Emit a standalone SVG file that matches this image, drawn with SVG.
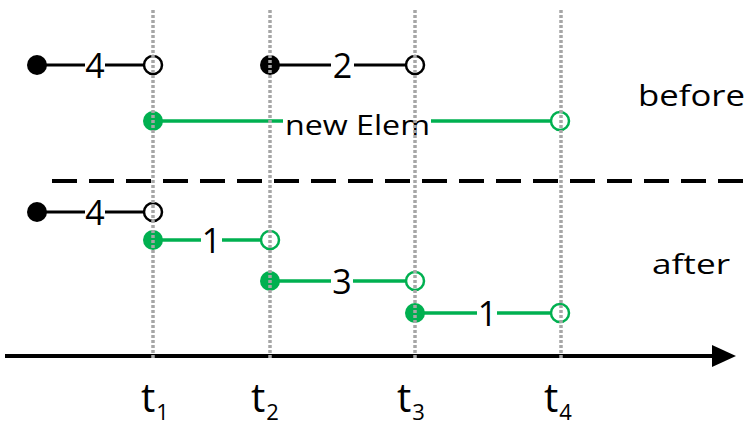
<svg xmlns="http://www.w3.org/2000/svg" width="747" height="422" viewBox="0 0 747 422">
<style>
.bk{stroke:#000;stroke-width:3;fill:none}
.gr{stroke:#00b050;stroke-width:3.5;fill:none}
.fb{fill:#000}
.ob{fill:#fff;stroke:#000;stroke-width:2.5}
.fg{fill:#00b050}
.og{fill:#fff;stroke:#00b050;stroke-width:2.5}
.num{font-family:"Open Sans","Liberation Sans",Arial,sans-serif;font-size:34px;fill:#000;text-anchor:middle}
.wd{font-family:"Open Sans","Liberation Sans",Arial,sans-serif;fill:#000}
.dot{stroke:#a6a6a6;stroke-width:3.5;stroke-dasharray:3 2;fill:none}
</style>
<rect width="747" height="422" fill="#fff"/>
<g id="connectors">
  <line x1="52" y1="181" x2="747" y2="181" stroke="#000" stroke-width="4" stroke-dasharray="25 12"/>
  <line x1="5" y1="356" x2="716" y2="356" stroke="#000" stroke-width="4"/>
  <polygon points="712,345 736,356 712,367" fill="#000"/>
</g>
<g id="before-4">
  <line class="bk" x1="37" y1="65" x2="85" y2="65"/>
  <line class="bk" x1="105" y1="65" x2="153" y2="65"/>
  <circle class="fb" cx="37" cy="65" r="10"/>
  <circle class="ob" cx="153" cy="65" r="9"/>
  <text class="num" x="95" y="78">4</text>
</g>
<g id="before-2">
  <line class="bk" x1="270" y1="65" x2="331" y2="65"/>
  <line class="bk" x1="354" y1="65" x2="415" y2="65"/>
  <circle class="fb" cx="270" cy="65" r="10"/>
  <circle class="ob" cx="415" cy="65" r="9"/>
  <text class="num" x="342.5" y="78">2</text>
</g>
<g id="new-elem">
  <line class="gr" x1="153" y1="121" x2="283" y2="121"/>
  <line class="gr" x1="431" y1="121" x2="560" y2="121"/>
  <circle class="fg" cx="153" cy="121" r="10"/>
  <circle class="og" cx="560" cy="121" r="9"/>
  <text class="wd" x="285" y="135" font-size="27" textLength="145" lengthAdjust="spacingAndGlyphs">new Elem</text>
</g>
<g id="after-4">
  <line class="bk" x1="37" y1="212" x2="85" y2="212"/>
  <line class="bk" x1="105" y1="212" x2="153" y2="212"/>
  <circle class="fb" cx="37" cy="212" r="10"/>
  <circle class="ob" cx="153" cy="212" r="9"/>
  <text class="num" x="95" y="225">4</text>
</g>
<g id="after-1a">
  <line class="gr" x1="153" y1="240" x2="201" y2="240"/>
  <line class="gr" x1="222" y1="240" x2="270" y2="240"/>
  <circle class="fg" cx="153" cy="240" r="10"/>
  <circle class="og" cx="270" cy="240" r="9"/>
  <text class="num" x="211.5" y="253">1</text>
</g>
<g id="after-3">
  <line class="gr" x1="270" y1="281" x2="331" y2="281"/>
  <line class="gr" x1="353" y1="281" x2="415" y2="281"/>
  <circle class="fg" cx="270" cy="281" r="10"/>
  <circle class="og" cx="415" cy="281" r="9"/>
  <text class="num" x="342" y="294">3</text>
</g>
<g id="after-1b">
  <line class="gr" x1="415" y1="313" x2="477" y2="313"/>
  <line class="gr" x1="497" y1="313" x2="560" y2="313"/>
  <circle class="fg" cx="415" cy="313" r="10"/>
  <circle class="og" cx="560" cy="313" r="9"/>
  <text class="num" x="487.5" y="326">1</text>
</g>
<g id="gridlines">
  <line class="dot" x1="153" y1="10" x2="153" y2="358"/>
  <line class="dot" x1="270" y1="10" x2="270" y2="358"/>
  <line class="dot" x1="415" y1="10" x2="415" y2="358"/>
  <line class="dot" x1="561" y1="10" x2="561" y2="358"/>
</g>
<g id="labels">
  <text class="wd" x="638" y="106" font-size="29" textLength="107" lengthAdjust="spacingAndGlyphs">before</text>
  <text class="wd" x="652" y="274" font-size="28" textLength="78" lengthAdjust="spacingAndGlyphs">after</text>
</g>
<g id="ticks">
  <text class="wd" x="141" y="412" font-size="40">t<tspan dx="1" dy="8" font-size="22">1</tspan></text>
  <text class="wd" x="251" y="412" font-size="40">t<tspan dx="1" dy="8" font-size="22">2</tspan></text>
  <text class="wd" x="397" y="412" font-size="40">t<tspan dx="1" dy="8" font-size="22">3</tspan></text>
  <text class="wd" x="544" y="412" font-size="40">t<tspan dx="1" dy="8" font-size="22">4</tspan></text>
</g>
</svg>
